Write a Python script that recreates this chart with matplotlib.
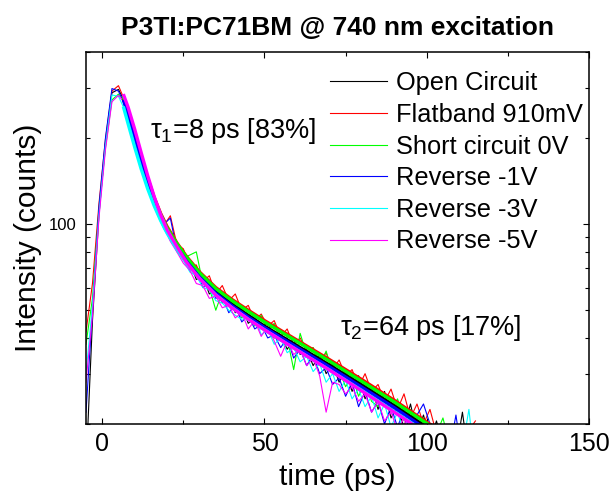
import matplotlib
matplotlib.use('Agg')
import matplotlib.pyplot as plt
import matplotlib.ticker as ticker

plt.rcParams['font.family'] = ['Liberation Sans', 'DejaVu Sans']
plt.rcParams['mathtext.fontset'] = 'custom'
plt.rcParams['mathtext.rm'] = 'Liberation Sans'

# time axis of the measured traces (ps)
t_data = [-5 + 2 * i for i in range(61)]

open_circuit = [14, 46, 108, 192, 288, 296, 268, 220, 190, 151, 135, 110, 104, 88, 86, 75,
                74, 64, 66, 57, 59, 53, 55, 49, 52, 45, 47, 43, 45.5, 40, 41, 36.5, 39.5, 35,
                36.5, 32, 35, 30, 32.5, 28, 31, 26, 29.5, 24.5, 27, 22.5, 26, 21, 23, 19.5,
                23.5, 18.5, 21.5, 17.5, 20.5, 17, 18.5, 16, 22, 15, 14]
flatband = [42, 62, 118, 198, 292, 305, 270, 230, 184, 160, 130, 117, 99, 107, 85, 82,
            71, 72, 63, 66, 57, 61, 54, 57, 50, 52, 46, 48.5, 44, 46, 40.5, 43, 37.5, 40,
            36, 37, 33, 35.5, 31, 33.5, 29.5, 31, 27, 30, 26, 27.5, 24, 26.5, 22.5, 25.5,
            21, 23.5, 20, 22.5, 18.5, 17.5, 16.5, 17, 15.5, 19, 20.5]
short_circuit = [38, 55, 112, 185, 272, 285, 272, 226, 190, 153, 134, 112, 103, 90, 87, 76,
                 78, 80, 62, 60, 50, 58, 55, 52, 47, 50, 44, 48, 42, 45, 39, 40, 31, 41.5,
                 35, 37, 32, 36, 30, 31, 27, 29.5, 25, 28, 24, 23, 25.5, 22, 24.5, 20.5,
                 22.5, 19, 21, 17.5, 18.5, 21, 17, 16.5, 19.5, 15, 14]
reverse_1v = [22, 50, 115, 200, 298, 292, 262, 222, 185, 150, 128, 116, 100, 105, 81, 80,
              69, 71, 60, 63, 55, 56, 49, 52, 45.5, 48, 43, 44.5, 40, 41, 37, 40, 34, 36.5,
              32, 35, 30, 31.5, 27.5, 29, 25, 28, 23, 26, 22, 24, 20, 23, 19.5, 22.5, 18,
              21.5, 23.5, 20, 17, 18.5, 16, 21.5, 15, 14.5, 14]
reverse_3v = [30, 52, 108, 188, 283, 280, 250, 212, 175, 148, 124, 108, 96, 89, 80, 75,
              68, 66, 60, 59, 54, 53, 50, 48, 46.5, 47, 48, 41, 43, 38, 40, 35.5, 37, 33,
              34.5, 30.5, 32.5, 28, 30, 26, 28.5, 24.5, 26.5, 23, 25, 21, 23.5, 19.5, 22,
              18.5, 20.5, 17.5, 19.5, 16.5, 18, 16, 17.5, 15.5, 16.5, 22.5, 14]
reverse_5v = [28, 48, 105, 182, 268, 282, 265, 228, 190, 154, 128, 110, 97, 87, 80, 73,
              69, 62, 61, 55, 56, 51, 52, 47, 49, 43, 46, 40.5, 44, 39, 34.5, 39, 35, 36.5,
              32, 34, 29.5, 22, 28, 27.5, 25.5, 27, 24, 25.5, 22, 24, 20.5, 22, 19, 21,
              17.5, 19.5, 16.5, 18, 15.5, 17, 15, 16, 14.5, 15, 14]

# bi-exponential fits
t_fit = [6.5, 8, 10, 12, 14, 16, 18, 20, 23, 26, 30, 35, 40, 45, 50, 60, 70, 80, 90, 100, 105]
fit_open = [275, 245, 205, 170, 143, 122, 107, 96, 84, 75, 66, 58, 52.5, 48, 44, 37.6, 32.2,
            27.4, 23.2, 19.5, 18.0]
fit_flat = [280, 248, 207, 172, 145, 124, 109, 98, 86, 77, 68, 60, 54.5, 50, 46, 39.3, 33.6,
            28.6, 24.2, 20.3, 18.7]
fit_short = [280, 246, 206, 171, 144, 123, 108, 97, 85.5, 76.5, 67.5, 59.5, 54, 49.5, 45.5,
             38.9, 33.2, 28.2, 23.9, 20.1, 18.5]
fit_r1 = [272, 243, 203, 168, 141, 120, 105, 94.5, 83, 74, 65.2, 57.3, 51.8, 47.3, 43.5,
          37.1, 31.7, 26.9, 22.8, 19.1, 17.6]
fit_r3 = [258, 224, 186, 156, 133, 116, 103, 93, 82, 73, 64.5, 56.5, 51, 46.5, 42.7, 36.3,
          30.9, 26.2, 22.1, 18.6, 17.1]
fit_r5 = [285, 256, 215, 178, 148, 125, 108, 95.5, 83.5, 73.5, 64.5, 56.5, 51, 46.5, 42.7,
          36.3, 30.9, 26.1, 22.0, 18.5, 17.0]

labels = ['Open Circuit', 'Flatband 910mV', 'Short circuit 0V',
          'Reverse -1V', 'Reverse -3V', 'Reverse -5V']
colors = ['#000000', '#ff0000', '#00ff00', '#0000ff', '#00ffff', '#ff00ff']
traces = [open_circuit, flatband, short_circuit, reverse_1v, reverse_3v, reverse_5v]
fits = [fit_open, fit_flat, fit_short, fit_r1, fit_r3, fit_r5]

fig = plt.figure(figsize=(6.12, 4.92), dpi=100)
ax = fig.add_axes([0.1405, 0.1382, 0.8219, 0.7561])

# dados medidos
for y, c, lab in zip(traces, colors, labels):
    ax.plot(t_data, y, color=c, lw=0.8, label=lab)
# ajustes
for y, c in zip(fits, colors):
    ax.plot(t_fit, y, color=c, lw=2.4, solid_capstyle='butt')

ax.set_yscale('log')
ax.set_xlim(-5, 150)
ax.set_ylim(20, 400)

ax.xaxis.set_major_locator(ticker.MultipleLocator(50))
ax.xaxis.set_minor_locator(ticker.MultipleLocator(25))
ax.yaxis.set_major_locator(ticker.LogLocator(base=10))
ax.yaxis.set_major_formatter(ticker.FormatStrFormatter('%d'))
ax.yaxis.set_minor_formatter(ticker.NullFormatter())

ax.tick_params(which='both', direction='in', top=True, right=True, width=0.8)
ax.tick_params(which='major', length=4.5)
ax.tick_params(which='minor', length=2.6)
ax.tick_params(axis='x', labelsize=18, pad=6)
ax.tick_params(axis='y', labelsize=12, pad=7)
for s in ax.spines.values():
    s.set_linewidth(1.1)

ax.set_xlabel('time (ps)', fontsize=21.5, labelpad=4.5)
ax.set_ylabel('Intensity (counts)', fontsize=21.5, labelpad=5)
ax.set_title('P3TI:PC71BM @ 740 nm excitation', fontsize=19, fontweight='bold', pad=12)

ax.text(14.7, 200, r'τ$_1$=8 ps [83%]', fontsize=19.5, va='baseline')
ax.text(73.3, 41, r'τ$_2$=64 ps [17%]', fontsize=19.5, va='baseline')

ax.legend(loc='upper left', bbox_to_anchor=(0.485, 0.948), frameon=False, fontsize=18.3,
          handlelength=2.24, handletextpad=0.35, labelspacing=0.30, borderpad=0,
          borderaxespad=0)

fig.savefig('out.png', dpi=100)
